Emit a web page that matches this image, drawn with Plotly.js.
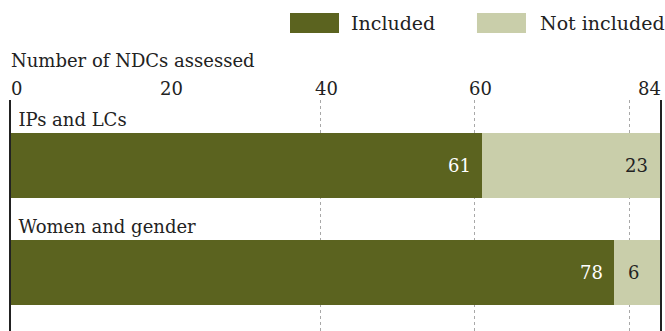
<!DOCTYPE html>
<html>
<head>
<meta charset="utf-8">
<script src="https://cdn.plot.ly/plotly-3.0.1.min.js"></script>
<style>
html,body{margin:0;padding:0;background:#fff;}
#chart{width:665px;height:331px;}
</style>
</head>
<body>
<div id="chart"></div>
<script>
// ---- data ----
var categories = ["IPs and LCs", "Women and gender"];
var included = [61, 78];
var notIncluded = [23, 6];
var seriesNames = ["Included", "Not included"];
var tickValues = [0, 20, 40, 60, 84];
var gridValues = [0, 20, 40, 60, 80];
var axisTitle = "Number of NDCs assessed";

// ---- styles ----
var FONT = "DejaVu Serif";
var DARK = "#5b631f";
var LIGHT = "#c9ceaa";
var TXT = "#222222";
var total = included.map(function (v, i) { return v + notIncluded[i]; });
var xMax = Math.max.apply(null, total);

var traces = [
  {type: "bar", orientation: "h", name: seriesNames[0], y: categories, x: included,
   marker: {color: DARK}, width: 0.605, hoverinfo: "x+name", showlegend: false},
  {type: "bar", orientation: "h", name: seriesNames[1], y: categories, x: notIncluded,
   marker: {color: LIGHT}, width: 0.605, hoverinfo: "x+name", showlegend: false}
];

var annotations = [];
// value labels
categories.forEach(function (c, i) {
  annotations.push({x: included[i], y: c, xref: "x", yref: "y", text: String(included[i]),
    showarrow: false, xanchor: "right", xshift: -9, yanchor: "middle",
    font: {family: FONT, size: 18, color: "#ffffff"}});
  var narrow = notIncluded[i] < 10;
  annotations.push({x: narrow ? included[i] : total[i], y: c, xref: "x", yref: "y",
    text: String(notIncluded[i]), showarrow: false,
    xanchor: narrow ? "left" : "right", xshift: narrow ? 12 : -10, yanchor: "middle",
    font: {family: FONT, size: 18, color: TXT}});
});
// tick labels
tickValues.forEach(function (v, i) {
  var first = i === 0, last = i === tickValues.length - 1;
  annotations.push({x: v, xref: "x", y: 1, yref: "paper", yanchor: "middle", yshift: 12,
    text: String(v), showarrow: false,
    xanchor: first ? "left" : (last ? "right" : "center"),
    xshift: first ? -2 : (last ? 3 : 6),
    font: {family: FONT, size: 18, color: TXT}});
});
// axis title
annotations.push({x: 0, xref: "paper", y: 1, yref: "paper", yanchor: "middle", yshift: 40,
  xanchor: "left", xshift: -2, text: axisTitle, showarrow: false,
  font: {family: FONT, size: 18, color: TXT}});
// legend text
annotations.push({x: 0.5215, xref: "paper", y: 1.3333, yref: "paper", xanchor: "left", yanchor: "middle",
  text: seriesNames[0], showarrow: false, font: {family: FONT, size: 19, color: TXT}});
annotations.push({x: 0.8120, xref: "paper", y: 1.3333, yref: "paper", xanchor: "left", yanchor: "middle",
  text: seriesNames[1], showarrow: false, font: {family: FONT, size: 19, color: TXT}});

var shapes = [
  {type: "rect", xref: "paper", yref: "paper", x0: 0.4299, x1: 0.5054, y0: 1.290, y1: 1.3766,
   fillcolor: DARK, line: {width: 0}},
  {type: "rect", xref: "paper", yref: "paper", x0: 0.7180, x1: 0.7935, y0: 1.290, y1: 1.3766,
   fillcolor: LIGHT, line: {width: 0}}
];

var layout = {
  width: 665, height: 331,
  margin: {l: 11, r: 5, t: 100, b: 0, pad: 0},
  paper_bgcolor: "#ffffff", plot_bgcolor: "#ffffff",
  barmode: "stack", bargap: 0.4,
  showlegend: false,
  font: {family: FONT, size: 18, color: TXT},
  xaxis: {range: [0, xMax], tickvals: gridValues, showticklabels: false, ticks: "",
    showgrid: true, gridcolor: "#a8a8a8", gridwidth: 1, griddash: "3px,3px",
    zeroline: false, showline: false, fixedrange: true},
  yaxis: {range: [1.54, -0.609], showgrid: false, zeroline: false,
    showline: true, mirror: true, linecolor: "#222222", linewidth: 2,
    ticks: "", ticklabelposition: "inside", ticklabelstandoff: 8, ticklabelshift: 46,
    tickfont: {family: FONT, size: 18, color: TXT}, fixedrange: true},
  annotations: annotations,
  shapes: shapes
};

Plotly.newPlot("chart", traces, layout, {displayModeBar: false, staticPlot: true});
</script>
</body>
</html>
